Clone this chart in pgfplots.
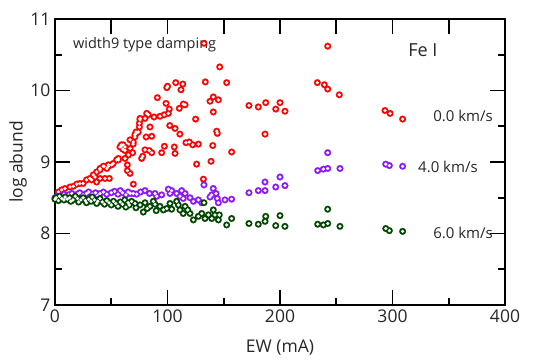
\documentclass[border=0pt]{standalone}
\usepackage{pgfplots}
\usepackage{pgfplotstable}
\pgfplotsset{compat=1.18}
\usetikzlibrary{calc}
\usepackage{fontspec}
\setmainfont{Open Sans}
\definecolor{cred}{RGB}{255,0,0}
\definecolor{cpur}{RGB}{140,20,255}
\definecolor{cgrn}{RGB}{0,70,0}
\pgfplotstableread{
x y
3 8.58
6 8.61
8.9 8.63
13.3 8.65
16.3 8.66
19.3 8.69
22 8.70
25 8.70
28 8.75
31 8.77
32.6 8.75
34 8.82
35.6 8.79
37 8.86
37 8.72
40 8.89
40 8.77
40 8.91
42.9 8.94
43.6 8.94
44.4 8.77
46 8.91
47.4 8.94
47.4 8.96
48.3 8.77
50.4 8.96
51.8 8.98
54.8 9.03
56.3 9.03
56.3 9.05
57.8 9.21
58.7 9.22
59 9.24
60.2 9.18
60.6 9.24
62.2 9.16
62.2 9.05
62.2 9.21
64.3 8.96
64.3 8.88
65.2 9.10
66.7 9.19
66.7 8.84
66.7 9.31
69 9.13
69.5 9.25
69.6 9.28
69.6 8.69
71 9.35
71 9.38
72 9.40
72 9.42
74 9.42
75 9.49
75 9.54
75.6 9.59
75.6 9.61
77 9.05
78 9.08
80 9.61
80 9.17
81 9.35
81.5 9.68
82.9 9.66
84.4 9.49
83.8 9.16
86 9.36
86 9.13
88 9.63
91 9.90
93.3 9.64
94.8 9.13
97 9.66
97.2 9.22
98.7 9.82
99.4 10.04
100 10.06
100.7 9.68
101.6 9.74
102 9.51
106 9.21
106.7 9.47
106.7 9.12
107.3 10.11
110.5 9.75
111 9.39
112 10.01
113.6 10.09
114 9.81
115.6 9.80
116.4 9.27
119.4 9.28
122.4 9.24
125 9.60
125.9 8.97
127.4 9.25
131.9 8.76
132.4 10.66
133.6 10.12
137.8 9.85
138.7 9.01
140.2 9.23
140.7 9.91
140.7 9.70
143.7 9.43
144.3 9.40
145.2 9.87
146.4 10.33
152.6 10.11
157 9.14
172.4 9.79
180.7 9.77
186.7 9.39
187.3 9.83
196.2 9.74
200 9.83
204.4 9.71
233.2 10.11
239.4 10.08
242.4 10.02
242.4 10.62
252.7 9.94
293.3 9.72
297.8 9.68
309 9.60
}\redtab
\pgfplotstableread{
x y
0 8.50
2 8.52
4 8.51
6 8.53
8 8.55
10 8.52
12 8.54
15 8.56
17 8.53
20 8.55
22 8.57
25 8.54
28 8.56
30 8.58
33 8.55
36 8.57
38 8.53
40 8.56
43 8.58
46 8.55
50 8.57
53 8.59
56 8.55
58 8.60
60 8.57
63 8.54
65 8.58
67 8.56
69.6 8.56
72.6 8.55
76 8.58
80 8.60
84 8.56
88.9 8.56
90.4 8.52
94.8 8.54
100.7 8.62
102.2 8.56
103.7 8.60
108.1 8.56
111.1 8.52
112.6 8.60
114 8.49
115.6 8.56
120 8.50
123 8.45
127.4 8.47
130.4 8.43
132.4 8.68
137.8 8.51
139.3 8.54
140.7 8.63
143.1 8.56
144.3 8.49
145.2 8.43
151.1 8.47
157 8.48
172.4 8.57
180.7 8.60
186.7 8.60
186.7 8.72
196.2 8.65
200 8.79
204.4 8.67
233.5 8.88
238.5 8.90
242.4 8.91
242.4 9.13
253.3 8.91
294 8.97
297.2 8.95
309 8.94
}\purtab
\pgfplotstableread{
x y
0 8.48
1 8.50
3 8.46
4 8.52
6 8.49
8 8.47
9 8.51
11 8.48
13 8.50
14 8.45
16 8.47
18 8.52
20 8.49
21 8.44
23 8.47
25 8.50
27 8.46
28 8.43
30 8.48
32 8.45
33 8.51
35 8.47
37 8.42
38 8.45
40 8.49
42 8.44
44 8.41
46 8.46
48 8.43
50 8.40
52 8.45
54 8.42
56 8.38
58 8.44
60 8.41
62 8.47
63 8.37
65 8.43
66 8.40
68.1 8.45
71.1 8.42
72 8.36
75.6 8.40
78.5 8.30
80 8.43
82 8.35
84.4 8.38
87.4 8.45
88.9 8.41
90 8.32
93.3 8.38
96.3 8.33
99.3 8.35
102.2 8.42
103.7 8.34
108.1 8.45
109.6 8.40
111.1 8.33
114 8.28
115.6 8.38
118 8.33
120 8.28
123 8.19
127.4 8.24
130.4 8.28
132.4 8.43
133.3 8.21
136.3 8.26
139.3 8.21
140.7 8.33
142.2 8.26
145.2 8.19
146 8.26
152.6 8.12
157 8.21
172.4 8.14
180.7 8.13
186.7 8.17
187.3 8.24
196.2 8.11
200 8.25
204.4 8.10
233.5 8.13
238.5 8.12
242.4 8.14
242.4 8.34
253.3 8.10
294 8.07
297.2 8.04
309 8.03
}\grntab
\begin{document}
\begin{tikzpicture}
\begin{axis}[
  scale only axis, width=450pt, height=286pt,
  at={(0,0)}, anchor=south west,
  xmin=0, xmax=400, ymin=7, ymax=11,
  xtick={0,100,200,300,400}, ytick={7,8,9,10,11},
  minor x tick num=1, minor y tick num=1,
  tick align=inside,
  major tick length=15pt, minor tick length=7pt,
  every tick/.style={black, line width=1.6pt},
  axis line style={line width=2pt, black},
  tick label style={font=\fontsize{17.5}{20}\selectfont, text=black!85, /pgf/number format/assume math mode=true},
  xticklabel style={yshift=-1pt},
  yticklabel style={xshift=-1pt},
  xlabel={EW (mA)}, ylabel={log abund},
  label style={font=\fontsize{17.5}{20}\selectfont, text=black!85},
  xlabel style={at={(axis description cs:0.5,-0.150)}, anchor=center},
  ylabel style={at={(axis description cs:-0.082,0.5)}, anchor=center, rotate=0},
  clip=false,
]
\addplot[only marks, mark=*, mark size=3.4pt, mark options={draw=cred, fill=cred, line width=0.1pt}] table {\redtab};
\addplot[only marks, mark=*, mark size=1.6pt, mark options={draw=white, fill=white, line width=0.1pt}] table {\redtab};
\addplot[only marks, mark=*, mark size=3.4pt, mark options={draw=cpur, fill=cpur, line width=0.1pt}] table {\purtab};
\addplot[only marks, mark=*, mark size=1.6pt, mark options={draw=white, fill=white, line width=0.1pt}] table {\purtab};
\addplot[only marks, mark=*, mark size=3.4pt, mark options={draw=cgrn, fill=cgrn, line width=0.1pt}] table {\grntab};
\addplot[only marks, mark=*, mark size=1.6pt, mark options={draw=white, fill=white, line width=0.1pt}] table {\grntab};
% frame
\fill[black] ($(rel axis cs:0,0)+(-1pt,-1pt)$) rectangle ($(rel axis cs:1,0)+(1pt,1pt)$);
\fill[black] ($(rel axis cs:0,1)+(-1pt,-1pt)$) rectangle ($(rel axis cs:1,1)+(1pt,1pt)$);
\fill[black] ($(rel axis cs:0,0)+(-1pt,-1pt)$) rectangle ($(rel axis cs:0,1)+(1pt,1pt)$);
\fill[black] ($(rel axis cs:1,0)+(-1pt,-1pt)$) rectangle ($(rel axis cs:1,1)+(1pt,1pt)$);
% ticks
\pgfplotsinvokeforeach{50,100,150,200,250,300,350}{
  \fill[black] (axis cs:#1,11) ++(-0.8pt,0pt) rectangle ++(1.6pt,-15pt);
}
\pgfplotsinvokeforeach{100,200,300}{
  \fill[black] (axis cs:#1,7) ++(-0.8pt,0pt) rectangle ++(1.6pt,15pt);
}
\pgfplotsinvokeforeach{50,150,250,350}{
  \fill[black] (axis cs:#1,7) ++(-0.8pt,0pt) rectangle ++(1.6pt,7pt);
}
\pgfplotsinvokeforeach{8,9,10}{
  \fill[black] (axis cs:0,#1) ++(0pt,-0.8pt) rectangle ++(15pt,1.6pt);
  \fill[black] (axis cs:400,#1) ++(0pt,-0.8pt) rectangle ++(-15pt,1.6pt);
}
\pgfplotsinvokeforeach{7.5,8.5,9.5,10.5}{
  \fill[black] (axis cs:0,#1) ++(0pt,-0.8pt) rectangle ++(7pt,1.6pt);
  \fill[black] (axis cs:400,#1) ++(0pt,-0.8pt) rectangle ++(-7pt,1.6pt);
}
\node[anchor=west, font=\fontsize{14.5}{17}\selectfont, text=black!85] at (axis cs:13,10.64) {width9 type damping};
\node[anchor=center, font=\fontsize{18}{21}\selectfont, text=black!85] at (axis cs:327,10.57) {Fe I};
\node[anchor=center, font=\fontsize{15}{18}\selectfont, text=black!85] at (axis cs:362.7,9.64) {0.0 km/s};
\node[anchor=center, font=\fontsize{15}{18}\selectfont, text=black!85] at (axis cs:349.3,8.93) {4.0 km/s};
\node[anchor=center, font=\fontsize{15}{18}\selectfont, text=black!85] at (axis cs:362.7,8.01) {6.0 km/s};
\end{axis}
\path (-55pt,-55pt) rectangle (478pt,305pt);
\end{tikzpicture}
\end{document}
